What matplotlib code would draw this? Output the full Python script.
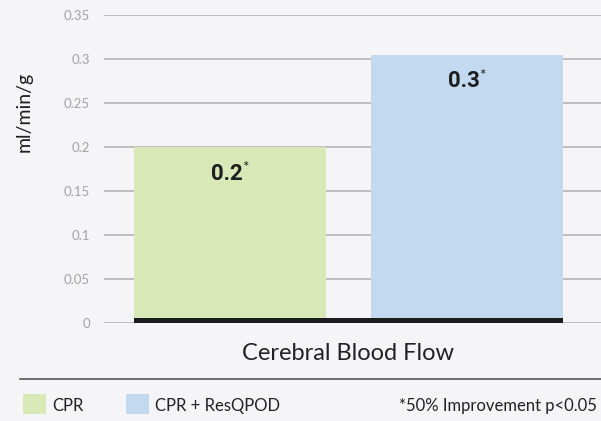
import matplotlib
matplotlib.use("Agg")
import matplotlib.pyplot as plt
from matplotlib.patches import Rectangle

# data
categories = ["CPR", "CPR + ResQPOD"]
values = [0.2, 0.305]
value_labels = ["0.2", "0.3"]
colors = ["#d8e8b7", "#c2d9f0"]
yticks = [0, 0.05, 0.1, 0.15, 0.2, 0.25, 0.3, 0.35]
ytick_labels = ["0", "0.05", "0.1", "0.15", "0.2", "0.25", "0.3", "0.35"]
xlabel = "Cerebral Blood Flow"
ylabel = "ml/min/g"
footnote = "*50% Improvement p<0.05"

bg = "#f5f4f7"
plt.rcParams["font.family"] = ["Lato", "DejaVu Sans"]

fig = plt.figure(figsize=(6.01, 4.21), dpi=100, facecolor=bg)
ax = fig.add_axes([104 / 601, 1 - 323 / 421, 497 / 601, 308 / 421])
ax.set_facecolor(bg)

width = 0.81
xs = list(range(len(values)))
ax.bar(xs, values, width=width, color=colors, zorder=2)

# black base strip under the bars
ax.add_patch(Rectangle((xs[0] - width / 2, 0), xs[-1] - xs[0] + width, 0.0058,
                       color="#1c1c1c", zorder=3, lw=0))

for x, v, lab in zip(xs, values, value_labels):
    ax.annotate(lab, (x, v - 0.0305), xytext=(-2, 0), textcoords="offset points",
                ha="center", va="center", fontsize=16, fontweight="bold",
                color="#1e1e1e", family=["Roboto", "DejaVu Sans"], zorder=4)
    ax.annotate("*", (x, v - 0.0305), xytext=(9, 4), textcoords="offset points",
                ha="left", va="center", fontsize=11, color="#1e1e1e", zorder=4)

ax.set_xlim(-0.532, 1.565)
ax.set_ylim(0, 0.35)
ax.set_yticks(yticks)
ax.set_yticklabels(ytick_labels)
ax.yaxis.grid(True, color="#bdbdbd", lw=1.4, zorder=0)
ax.set_xticks([])
for s in ax.spines.values():
    s.set_visible(False)
ax.tick_params(axis="y", length=0, pad=10, labelsize=9.5, labelcolor="#a3a3a3")
ax.set_ylabel(ylabel, fontsize=14, color="#1e1e1e")
ax.yaxis.set_label_coords(-71 / 497, 0.685)

fig.text(348 / 601, 1 - 353 / 421, xlabel, ha="center", va="center",
         fontsize=17, color="#222222")

# separator line
fig.add_artist(plt.Line2D([20 / 601, 1], [1 - 379 / 421] * 2, color="#555555", lw=1.2))

# legend
lx = [23, 126]
for x0, c, name in zip(lx, colors, categories):
    fig.add_artist(Rectangle((x0 / 601, 1 - 414 / 421), 23 / 601, 20 / 421,
                             color=c, lw=0, transform=fig.transFigure))
    fig.text((x0 + 29) / 601, 1 - 406 / 421, name, ha="left", va="center",
             fontsize=12, color="#222222")
fig.text(597 / 601, 1 - 406 / 421, footnote, ha="right", va="center",
         fontsize=12, color="#222222")

fig.savefig("out.png", dpi=100, facecolor=bg)
